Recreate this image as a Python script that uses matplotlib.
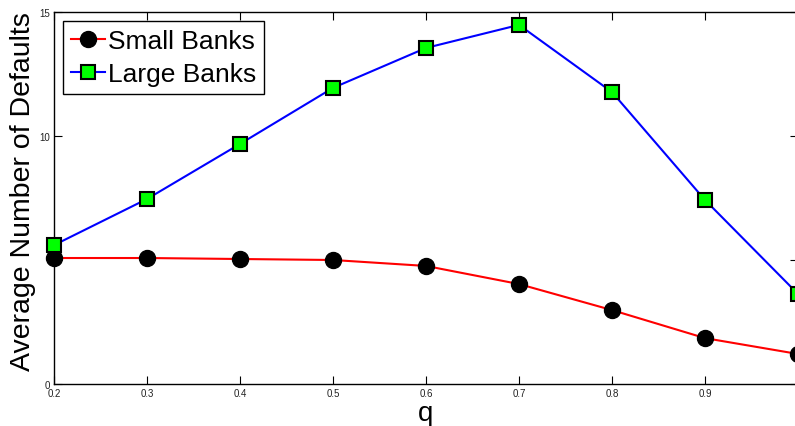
import matplotlib
matplotlib.use("Agg")
import matplotlib.pyplot as plt

# data
q = [0.2, 0.3, 0.4, 0.5, 0.6, 0.7, 0.8, 0.9, 1.0]
small_banks = [5.08, 5.08, 5.04, 5.0, 4.76, 4.03, 2.98, 1.85, 1.21]
large_banks = [5.6, 7.46, 9.68, 11.94, 13.55, 14.48, 11.77, 7.42, 3.63]
xticks = [0.2, 0.3, 0.4, 0.5, 0.6, 0.7, 0.8, 0.9]
yticks = [0, 5, 10, 15]
ytick_labels = ['0', '', '10', '15']

plt.rcParams['font.family'] = ['Liberation Sans', 'DejaVu Sans']

fig = plt.figure(figsize=(7.95, 4.27), dpi=100)
ax = fig.add_axes([54 / 795, 1 - 385 / 427, (798 - 54) / 795, (385 - 13) / 427])

ax.plot(q, small_banks, '-o', color='red', lw=1.5, markerfacecolor='black',
        markeredgecolor='black', markersize=11.5, label='Small Banks', clip_on=False, zorder=3)
ax.plot(q, large_banks, '-s', color='blue', lw=1.5, markerfacecolor='#00ff00',
        markeredgecolor='black', markeredgewidth=1.5, markersize=9.5, label='Large Banks',
        clip_on=False, zorder=3)

ax.set_xlim(0.2, 1.0)
ax.set_ylim(0, 15)
ax.set_xticks(xticks)
ax.set_xticklabels([str(x) for x in xticks])
ax.set_yticks(yticks)
ax.set_yticklabels(ytick_labels)
ax.tick_params(direction='in', length=6, width=0.8, labelsize=7, top=True, right=True,
               labelcolor='#222222', pad=3)
for s in ax.spines.values():
    s.set_linewidth(1.0)

ax.set_xlabel('q', fontsize=20, labelpad=1)
ax.set_ylabel('Average Number of Defaults', fontsize=20.5)
ax.yaxis.set_label_coords(-0.024, 0.52)

leg = ax.legend(loc='upper left', fontsize=19, handlelength=1.3, handletextpad=0.1,
                borderpad=0.3, labelspacing=0.35, borderaxespad=0.35, fancybox=False,
                framealpha=1, edgecolor='black')
leg.get_frame().set_linewidth(1.0)

fig.savefig('out.png', dpi=100)
